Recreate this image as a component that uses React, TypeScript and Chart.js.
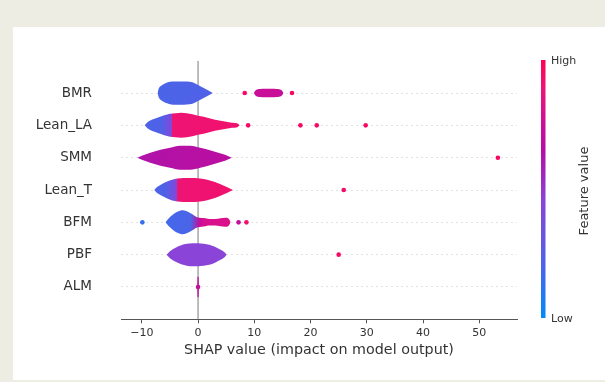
import React, { useEffect, useRef } from "react";
import { Chart, registerables } from "chart.js";
Chart.register(...registerables);

// ---------------- data ----------------
const FEATURES = ["BMR", "Lean_LA", "SMM", "Lean_T", "BFM", "PBF", "ALM"]; // top -> bottom
const X_TICKS = [-10, 0, 10, 20, 30, 40, 50];

// violin outlines: SHAP value positions and half-density (in row units)
const BMR_X = [-7.2, -7.0, -6.5, -5.8, -5.0, -4.0, -3.0, -2.0, -1.0, 0.0, 1.0, 2.0, 2.6];
const BMR_W = [0, 0.13, 0.23, 0.3, 0.345, 0.36, 0.36, 0.355, 0.335, 0.25, 0.155, 0.06, 0];
const BMR_HI_X = [9.9, 10.3, 11, 12, 13, 14, 14.8, 15.2];
const BMR_HI_W = [0, 0.093, 0.124, 0.133, 0.133, 0.124, 0.093, 0];
const LEANLA_X = [-9.5, -9.0, -8.0, -7.0, -6.0, -5.0, -4.0, -3.0, -2.0, -1.0, 0, 1, 2, 3, 4, 5, 6, 7, 7.4];
const LEANLA_W = [0, 0.093, 0.186, 0.247, 0.309, 0.356, 0.371, 0.387, 0.371, 0.34, 0.294, 0.263, 0.217, 0.17, 0.139, 0.108, 0.077, 0.056, 0];
const SMM_X = [-10.8, -10, -8.5, -6.7, -5.0, -3.2, -1.4, 0.4, 1.5, 3.0, 4.8, 6.0];
const SMM_W = [0, 0.062, 0.155, 0.247, 0.309, 0.371, 0.371, 0.309, 0.263, 0.186, 0.093, 0];
const LEANT_X = [-7.8, -7.3, -6.7, -5.5, -3.7, -1.4, 0.4, 2.1, 3.9, 5.3, 6.2];
const LEANT_W = [0, 0.093, 0.155, 0.263, 0.356, 0.371, 0.356, 0.294, 0.186, 0.077, 0];
const BFM_X = [-5.8, -5.2, -4.5, -3.7, -2.7, -1.8, -1.0, -0.3, 0.3, 1.0, 2.0, 3.0, 4.0, 4.8, 5.4, 5.8];
const BFM_W = [0, 0.124, 0.232, 0.325, 0.371, 0.325, 0.247, 0.165, 0.145, 0.13, 0.1, 0.1, 0.125, 0.14, 0.115, 0];
const PBF_X = [-5.6, -5.0, -4.0, -3.0, -2.0, -1.0, 0, 1, 2, 3, 4, 4.7, 5.1];
const PBF_W = [0, 0.108, 0.217, 0.294, 0.34, 0.356, 0.356, 0.34, 0.309, 0.247, 0.155, 0.077, 0];
const ALM_X = [-0.16, -0.11, 0.11, 0.16];
const ALM_W = [0, 0.32, 0.32, 0];

// mean feature value (0 low .. 1 high) along each violin: [shap x, value]
const BMR_FV = [[-7.2, 0.2], [2.6, 0.22]];
const BMR_HI_FV = [[9.9, 0.74], [15.2, 0.74]];
const LEANLA_FV = [[-9.5, 0.2], [-6.5, 0.22], [-4.7, 0.42], [-4.55, 0.9], [7.4, 0.92]];
const SMM_FV = [[-10.8, 0.63], [6.0, 0.68]];
const LEANT_FV = [[-7.8, 0.2], [-5.8, 0.22], [-3.8, 0.42], [-3.65, 0.9], [6.2, 0.92]];
const BFM_FV = [[-5.8, 0.18], [-1.3, 0.2], [0.2, 0.7], [1.0, 0.8], [5.8, 0.82]];
const PBF_FV = [[-5.6, 0.45], [5.1, 0.45]];
const ALM_FV = [[-0.16, 0.72], [0.16, 0.72]];

// outlier points
const BMR_PTS = [8.3, 16.7];
const BMR_PTS_FV = [0.95, 0.95];
const LEANLA_PTS = [8.9, 18.2, 21.1, 29.8];
const LEANLA_PTS_FV = [0.95, 0.95, 0.95, 0.95];
const SMM_PTS = [53.3];
const SMM_PTS_FV = [0.96];
const LEANT_PTS = [25.9];
const LEANT_PTS_FV = [0.95];
const BFM_PTS = [-9.9, 7.2, 8.6];
const BFM_PTS_FV = [0.15, 0.7, 0.92];
const PBF_PTS = [25.0];
const PBF_PTS_FV = [0.95];
const ALM_PTS = [0];
const ALM_PTS_FV = [0.72];

// ---------------- colormap ----------------
const CMAP: [number, number[]][] = [
  [0, [0, 139, 251]],
  [0.2, [75, 100, 232]],
  [0.45, [138, 68, 216]],
  [0.65, [180, 14, 164]],
  [0.8, [215, 16, 142]],
  [0.9, [238, 20, 116]],
  [1, [255, 0, 82]],
];
function cmap(v: number): string {
  for (let i = 1; i < CMAP.length; i++) {
    if (v <= CMAP[i][0]) {
      const [a, ca] = CMAP[i - 1];
      const [b, cb] = CMAP[i];
      const t = (v - a) / (b - a);
      const c = ca.map((k, j) => Math.round(k + (cb[j] - k) * t));
      return `rgb(${c[0]},${c[1]},${c[2]})`;
    }
  }
  return "rgb(255,0,82)";
}

function gradientFor(chart: any, stops: number[][]) {
  const xs = chart.scales && chart.scales.x;
  if (!xs || !chart.chartArea) return cmap(stops[0][1]);
  const x0 = xs.getPixelForValue(stops[0][0]);
  const x1 = xs.getPixelForValue(stops[stops.length - 1][0]);
  if (x1 - x0 < 2.5) return cmap(stops[0][1]);
  const g = chart.ctx.createLinearGradient(x0, 0, x1, 0);
  stops.forEach(([x, v]) => {
    const t = Math.min(1, Math.max(0, (xs.getPixelForValue(x) - x0) / (x1 - x0)));
    g.addColorStop(t, cmap(v));
  });
  return g;
}

const VIOLINS = [
  { row: 6, xs: BMR_X, ws: BMR_W, fv: BMR_FV },
  { row: 6, xs: BMR_HI_X, ws: BMR_HI_W, fv: BMR_HI_FV },
  { row: 5, xs: LEANLA_X, ws: LEANLA_W, fv: LEANLA_FV },
  { row: 4, xs: SMM_X, ws: SMM_W, fv: SMM_FV },
  { row: 3, xs: LEANT_X, ws: LEANT_W, fv: LEANT_FV },
  { row: 2, xs: BFM_X, ws: BFM_W, fv: BFM_FV },
  { row: 1, xs: PBF_X, ws: PBF_W, fv: PBF_FV },
  { row: 0, xs: ALM_X, ws: ALM_W, fv: ALM_FV },
];
const POINTS = [
  { row: 6, xs: BMR_PTS, fv: BMR_PTS_FV },
  { row: 5, xs: LEANLA_PTS, fv: LEANLA_PTS_FV },
  { row: 4, xs: SMM_PTS, fv: SMM_PTS_FV },
  { row: 3, xs: LEANT_PTS, fv: LEANT_PTS_FV },
  { row: 2, xs: BFM_PTS, fv: BFM_PTS_FV },
  { row: 1, xs: PBF_PTS, fv: PBF_PTS_FV },
  { row: 0, xs: ALM_PTS, fv: ALM_PTS_FV },
];

const FONT = "'DejaVu Sans', sans-serif";
const TEXT = "#333333";

const colorbarPlugin = {
  id: "shapColorbar",
  afterDraw(chart: any) {
    const ctx = chart.ctx;
    const top = 60, bottom = 318, left = 541, w = 4.5;
    ctx.save();
    const g = ctx.createLinearGradient(0, bottom, 0, top);
    for (let i = 0; i <= 20; i++) g.addColorStop(i / 20, cmap(i / 20));
    ctx.fillStyle = g;
    ctx.fillRect(left, top, w, bottom - top);
    ctx.fillStyle = TEXT;
    ctx.font = `11px ${FONT}`;
    ctx.textAlign = "left";
    ctx.textBaseline = "middle";
    ctx.fillText("High", 551, 61);
    ctx.fillText("Low", 551, 319);
    ctx.translate(585, 191);
    ctx.rotate(-Math.PI / 2);
    ctx.textAlign = "center";
    ctx.font = `13px ${FONT}`;
    ctx.fillText("Feature value", 0, 0);
    ctx.restore();
  },
};

export default function App() {
  const ref = useRef<HTMLCanvasElement>(null);
  useEffect(() => {
    if (!ref.current) return;
    const datasets: any[] = [];
    POINTS.forEach((p) => {
      datasets.push({
        data: p.xs.map((x) => ({ x, y: p.row })),
        showLine: false,
        pointRadius: 2.3,
        pointBorderWidth: 0,
        pointBackgroundColor: p.fv.map((v) => cmap(v)),
        borderColor: "transparent",
      });
    });
    VIOLINS.forEach((v) => {
      const bg = (c: any) => gradientFor(c.chart, v.fv);
      const common = {
        borderWidth: 0,
        borderColor: "transparent",
        pointRadius: 0,
        cubicInterpolationMode: "monotone",
        backgroundColor: bg,
      };
      datasets.push({ ...common, data: v.xs.map((x, i) => ({ x, y: v.row + v.ws[i] })), fill: false });
      datasets.push({ ...common, data: v.xs.map((x, i) => ({ x, y: v.row - v.ws[i] })), fill: "-1" });
    });
    // zero reference line (drawn beneath everything)
    datasets.push({
      data: [{ x: 0, y: -1 }, { x: 0, y: 7 }],
      borderColor: "#999999",
      borderWidth: 1.3,
      pointRadius: 0,
      fill: false,
    });

    const chart = new Chart(ref.current, {
      type: "line",
      data: { datasets },
      plugins: [colorbarPlugin],
      options: {
        responsive: false,
        animation: false,
        events: [],
        layout: { padding: { top: 60.7, right: 88, left: 0, bottom: 0 } },
        plugins: { legend: { display: false }, tooltip: { enabled: false } },
        scales: {
          x: {
            type: "linear",
            min: -13.7,
            max: 56.7,
            afterFit: (s: any) => { s.height = 62.7; },
            afterBuildTicks: (s: any) => { s.ticks = X_TICKS.map((v) => ({ value: v })); },
            ticks: {
              font: { family: FONT, size: 11 },
              color: TEXT,
              padding: 3,
              maxRotation: 0,
              callback: (v: any) => String(v).replace("-", "\u2212"),
            },
            grid: { drawOnChartArea: false, drawTicks: true, tickLength: 4, color: "#555555", tickColor: "#555555" },
            border: { display: true, color: "#555555", width: 1 },
            title: {
              display: true,
              text: "SHAP value (impact on model output)",
              font: { family: FONT, size: 14.3 },
              color: TEXT,
              padding: { top: 0, bottom: 23.4 },
            },
          },
          y: {
            type: "linear",
            min: -1,
            max: 7,
            afterFit: (s: any) => { s.width = 121; },
            ticks: {
              stepSize: 1,
              font: { family: FONT, size: 13.5 },
              color: TEXT,
              padding: 29,
              callback: (v: any) => (v >= 0 && v <= 6 && Number.isInteger(v) ? FEATURES[6 - v] : ""),
            },
            grid: {
              drawTicks: false,
              color: (c: any) => (c.tick && c.tick.value >= 0 && c.tick.value <= 6 ? "#e2e2e2" : "rgba(0,0,0,0)"),
              lineWidth: 1,
            },
            border: { display: false, dash: [2, 3] },
          },
        },
      } as any,
    });
    return () => chart.destroy();
  }, []);

  return (
    <div style={{ position: "absolute", left: 0, top: 0, width: 605, height: 382, background: "#eeede3", overflow: "hidden" }}>
      <div style={{ position: "absolute", left: 13, top: 27, width: 592, height: 353, background: "#ffffff" }} />
      <canvas ref={ref} width={605} height={382} style={{ position: "absolute", left: 0, top: 0, width: 605, height: 382 }} />
    </div>
  );
}
